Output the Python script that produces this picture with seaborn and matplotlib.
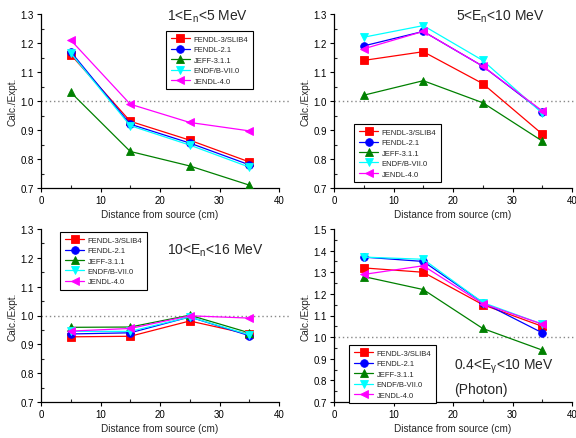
import numpy as np
import pandas as pd
import matplotlib
matplotlib.use("Agg")
import matplotlib.pyplot as plt
import seaborn as sns
from matplotlib.ticker import MultipleLocator

# ---------------- data ----------------
distance = [5, 15, 25, 35]
libraries = ["FENDL-3/SLIB4", "FENDL-2.1", "JEFF-3.1.1", "ENDF/B-VII.0", "JENDL-4.0"]

# panel 1: 1<En<5 MeV
p1_fendl3 = [1.16, 0.930, 0.865, 0.790]
p1_fendl2 = [1.17, 0.920, 0.855, 0.780]
p1_jeff = [1.03, 0.826, 0.776, 0.710]
p1_endf = [1.165, 0.915, 0.848, 0.772]
p1_jendl = [1.21, 0.989, 0.926, 0.897]

# panel 2: 5<En<10 MeV
p2_fendl3 = [1.14, 1.17, 1.06, 0.886]
p2_fendl2 = [1.19, 1.24, 1.12, 0.963]
p2_jeff = [1.02, 1.07, 0.994, 0.862]
p2_endf = [1.22, 1.26, 1.14, 0.958]
p2_jendl = [1.18, 1.24, 1.12, 0.966]

# panel 3: 10<En<16 MeV
p3_fendl3 = [0.926, 0.928, 0.981, 0.935]
p3_fendl2 = [0.936, 0.940, 0.995, 0.930]
p3_jeff = [0.959, 0.960, 1.001, 0.940]
p3_endf = [0.945, 0.945, 0.995, 0.933]
p3_jendl = [0.946, 0.955, 0.999, 0.991]

# panel 4: photon
p4_fendl3 = [1.32, 1.30, 1.15, 1.05]
p4_fendl2 = [1.37, 1.35, 1.16, 1.02]
p4_jeff = [1.28, 1.22, 1.04, 0.94]
p4_endf = [1.37, 1.36, 1.16, 1.06]
p4_jendl = [1.29, 1.33, 1.155, 1.06]

panels = [
    [p1_fendl3, p1_fendl2, p1_jeff, p1_endf, p1_jendl],
    [p2_fendl3, p2_fendl2, p2_jeff, p2_endf, p2_jendl],
    [p3_fendl3, p3_fendl2, p3_jeff, p3_endf, p3_jendl],
    [p4_fendl3, p4_fendl2, p4_jeff, p4_endf, p4_jendl],
]
ylims = [(0.7, 1.3), (0.7, 1.3), (0.7, 1.3), (0.7, 1.5)]

colors = ["#FF0000", "#0000FF", "#008000", "#00FFFF", "#FF00FF"]
markers = ["s", "o", "^", "v", "<"]

# ---------------- style ----------------
sns.set_style("ticks")
plt.rcParams["font.family"] = ["Liberation Sans", "DejaVu Sans"]
plt.rcParams["mathtext.fontset"] = "custom"
plt.rcParams["mathtext.rm"] = "Liberation Sans"
plt.rcParams["mathtext.it"] = "Liberation Sans:italic"

fig = plt.figure(figsize=(5.76, 4.39), dpi=100)

W = 238 / 576
H1 = 174 / 439
H2 = 173 / 439
positions = [
    (41 / 576, 1 - 189 / 439, W, H1),
    (334 / 576, 1 - 189 / 439, W, H1),
    (41 / 576, 1 - 403 / 439, W, H2),
    (334 / 576, 1 - 403 / 439, W, H2),
]
legend_anchor = [(0.525, 0.902), (0.084, 0.368), (0.080, 0.983), (0.063, 0.329)]
titles = [
    [(0.529, 0.989, r"1<E$_\mathrm{n}$<5 MeV")],
    [(0.513, 0.989, r"5<E$_\mathrm{n}$<10 MeV")],
    [(0.529, 0.879, r"10<E$_\mathrm{n}$<16 MeV")],
    [(0.504, 0.208, r"0.4<E$_\mathrm{\gamma}$<10 MeV"), (0.504, 0.075, "(Photon)")],
]

palette = dict(zip(libraries, colors))
marker_map = dict(zip(libraries, markers))

for i, series in enumerate(panels):
    ax = fig.add_axes(positions[i])
    rows = []
    for lib, vals in zip(libraries, series):
        for d, v in zip(distance, vals):
            rows.append({"Distance": d, "Ratio": v, "Library": lib})
    df = pd.DataFrame(rows)

    ax.axhline(1.0, xmin=0, xmax=1.04, color="#888888", lw=1.0,
               ls=(0, (1, 2)), clip_on=False, zorder=1)

    sns.lineplot(data=df, x="Distance", y="Ratio", hue="Library", style="Library",
                 hue_order=libraries, style_order=libraries, palette=palette,
                 markers=marker_map, dashes=False, markersize=5.5,
                 markeredgewidth=0.6, linewidth=0.9, ax=ax, legend=True,
                 zorder=3)
    for ln in ax.lines[1:]:
        ln.set_markeredgecolor(ln.get_color())

    ax.set_xlim(0, 40)
    ax.set_ylim(*ylims[i])
    ax.xaxis.set_major_locator(MultipleLocator(10))
    ax.xaxis.set_minor_locator(MultipleLocator(5))
    ax.yaxis.set_major_locator(MultipleLocator(0.1))
    ax.yaxis.set_minor_locator(MultipleLocator(0.05))
    ax.yaxis.set_major_formatter(matplotlib.ticker.FormatStrFormatter("%.1f"))
    ax.tick_params(which="major", direction="out", length=3, width=0.8,
                   labelsize=7, pad=2, colors="black")
    ax.tick_params(which="minor", direction="in", length=2, width=0.8)
    for s in ["top", "right"]:
        ax.spines[s].set_visible(False)
    for s in ["left", "bottom"]:
        ax.spines[s].set_linewidth(0.9)
        ax.spines[s].set_color("black")
    ax.set_xlabel("Distance from source (cm)", fontsize=7.2, labelpad=3)
    ax.set_ylabel("Calc./Expt.", fontsize=7.2, labelpad=2)

    handles, labels = ax.get_legend_handles_labels()
    leg = ax.legend(handles, labels, loc="upper left",
                    bbox_to_anchor=legend_anchor[i], borderaxespad=0,
                    fontsize=5.5, frameon=True, fancybox=False,
                    edgecolor="black", framealpha=1, handlelength=2.6,
                    handletextpad=0.4, labelspacing=0.4, borderpad=0.6,
                    markerscale=1.0)
    leg.get_frame().set_linewidth(0.8)

    for (tx, ty, txt) in titles[i]:
        ax.text(tx, ty, txt, transform=ax.transAxes, fontsize=10,
                ha="left", va="center", clip_on=False)

fig.savefig("out.png", dpi=100)
